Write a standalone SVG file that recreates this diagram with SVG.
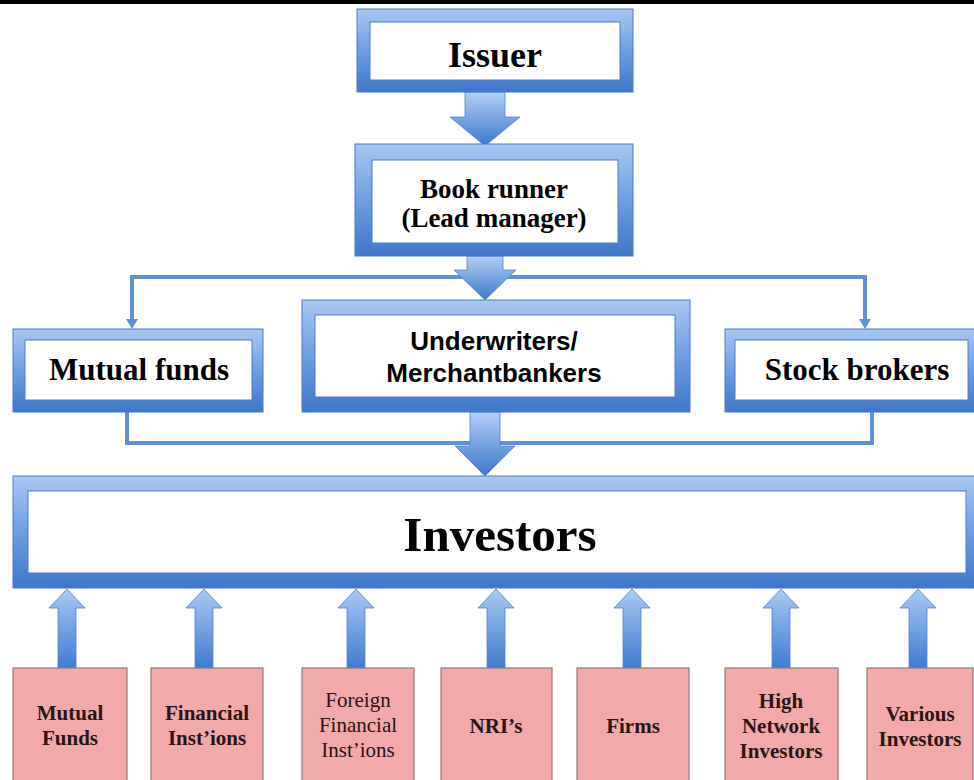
<svg xmlns="http://www.w3.org/2000/svg" width="974" height="780" viewBox="0 0 974 780">
<style>
.frame{fill:url(#frameGrad);stroke:#4a78bc;stroke-width:1}
.inner{fill:#ffffff;stroke:#4f7dbf;stroke-width:1}
.arrow{fill:url(#arrowGrad);stroke:#5584c8;stroke-width:0.8}
.uparrow{fill:url(#upGrad);stroke:#5584c8;stroke-width:0.8}
.conn{fill:none;stroke:#5f8fd4;stroke-width:4}
.pink{fill:#f1a9a9;stroke:#8e7a7a;stroke-width:1.2}
.serif{font-family:"Liberation Serif","Times New Roman",serif;font-weight:bold;fill:#000;text-anchor:middle}
.sans{font-family:"Liberation Sans",Arial,sans-serif;font-weight:bold;fill:#000;text-anchor:middle}
.ptext{font-family:"Liberation Serif","Times New Roman",serif;font-weight:bold;font-size:21px;fill:#2a1515;text-anchor:middle}
.preg{font-family:"Liberation Serif","Times New Roman",serif;font-weight:normal;font-size:21px;fill:#2a1515;text-anchor:middle}
</style>
<defs>
<linearGradient id="frameGrad" x1="0" y1="0" x2="0" y2="1">
<stop offset="0" stop-color="#a8c8f3"/>
<stop offset="0.5" stop-color="#6f9de2"/>
<stop offset="1" stop-color="#3f76c9"/>
</linearGradient>
<linearGradient id="arrowGrad" x1="0" y1="0" x2="0" y2="1">
<stop offset="0" stop-color="#b2cff5"/>
<stop offset="1" stop-color="#3d77cc"/>
</linearGradient>
<linearGradient id="upGrad" x1="0" y1="0" x2="0" y2="1">
<stop offset="0" stop-color="#a9c9f3"/>
<stop offset="1" stop-color="#3f7bd0"/>
</linearGradient>
</defs>
<rect x="0" y="0" width="974" height="780" fill="#ffffff"/>
<rect x="0" y="0" width="974" height="4" fill="#000000"/>

<g id="connectors">
<path class="conn" d="M485,277 H132 V321"/>
<path class="conn" d="M485,277 H865 V321"/>
<path d="M132,329 L126,319 H138 Z M865,329 L859,319 H871 Z" fill="#5f8fd4"/>
<path class="conn" d="M127,412 V443 H480"/>
<path class="conn" d="M872,412 V443 H490"/>
<path class="arrow" d="M465,92 H505 V117 H520 L485,146 L450,117 H465 Z"/>
<path class="arrow" d="M467,256 H503 V270 H516 L485,300 L454,270 H467 Z"/>
<path class="arrow" d="M470,412 H500 V446 H515 L485,476 L455,446 H470 Z"/>
<path class="uparrow" d="M58,668 V608 H49 L67,589 L85,608 H76 V668 Z"/>
<path class="uparrow" d="M195,668 V608 H186 L204,589 L222,608 H213 V668 Z"/>
<path class="uparrow" d="M347,668 V608 H338 L356,589 L374,608 H365 V668 Z"/>
<path class="uparrow" d="M487,668 V608 H478 L496,589 L514,608 H505 V668 Z"/>
<path class="uparrow" d="M623,668 V608 H614 L632,589 L650,608 H641 V668 Z"/>
<path class="uparrow" d="M772,668 V608 H763 L781,589 L799,608 H790 V668 Z"/>
<path class="uparrow" d="M909,668 V608 H900 L918,589 L936,608 H927 V668 Z"/>
</g>

<g id="issuer">
<rect class="frame" x="357" y="9" width="276" height="83"/>
<rect class="inner" x="370" y="22" width="250" height="58"/>
<text class="serif" x="495" y="67" font-size="36">Issuer</text>
</g>

<g id="bookrunner">
<rect class="frame" x="355" y="144" width="278" height="112"/>
<rect class="inner" x="372" y="160" width="246" height="83"/>
<text class="serif" x="494" y="198" font-size="27">Book runner</text>
<text class="serif" x="494" y="227" font-size="27">(Lead manager)</text>
</g>

<g id="mutualfunds">
<rect class="frame" x="13" y="329" width="250" height="83"/>
<rect class="inner" x="25" y="340" width="227" height="60"/>
<text class="serif" x="139" y="380" font-size="31">Mutual funds</text>
</g>

<g id="underwriters">
<rect class="frame" x="302" y="300" width="388" height="112"/>
<rect class="inner" x="315" y="315" width="360" height="82"/>
<text class="sans" x="494" y="350" font-size="26">Underwriters/</text>
<text class="sans" x="494" y="382" font-size="26">Merchantbankers</text>
</g>

<g id="stockbrokers">
<rect class="frame" x="725" y="329" width="250" height="83"/>
<rect class="inner" x="735" y="340" width="233" height="60"/>
<text class="serif" x="857" y="380" font-size="31">Stock brokers</text>
</g>

<g id="investors">
<rect class="frame" x="13" y="476" width="962" height="112"/>
<rect class="inner" x="28" y="491" width="938" height="82"/>
<text class="serif" x="500" y="551" font-size="49">Investors</text>
</g>

<g id="src-mutualfunds">
<rect class="pink" x="13" y="668" width="114" height="120"/>
<text class="ptext" x="70" y="720">Mutual</text>
<text class="ptext" x="70" y="745">Funds</text>
</g>
<g id="src-financial">
<rect class="pink" x="151" y="668" width="112" height="120"/>
<text class="ptext" x="207" y="720">Financial</text>
<text class="ptext" x="207" y="745">Inst’ions</text>
</g>
<g id="src-foreign">
<rect class="pink" x="302" y="668" width="112" height="120"/>
<text class="preg" x="358" y="707">Foreign</text>
<text class="preg" x="358" y="732">Financial</text>
<text class="preg" x="358" y="757">Inst’ions</text>
</g>
<g id="src-nri">
<rect class="pink" x="441" y="668" width="111" height="120"/>
<text class="ptext" x="496" y="733">NRI’s</text>
</g>
<g id="src-firms">
<rect class="pink" x="577" y="668" width="112" height="120"/>
<text class="ptext" x="633" y="733">Firms</text>
</g>
<g id="src-high">
<rect class="pink" x="725" y="668" width="113" height="120"/>
<text class="ptext" x="781" y="708">High</text>
<text class="ptext" x="781" y="733">Network</text>
<text class="ptext" x="781" y="758">Investors</text>
</g>
<g id="src-various">
<rect class="pink" x="867" y="668" width="106" height="120"/>
<text class="ptext" x="920" y="721">Various</text>
<text class="ptext" x="920" y="746">Investors</text>
</g>
</svg>
